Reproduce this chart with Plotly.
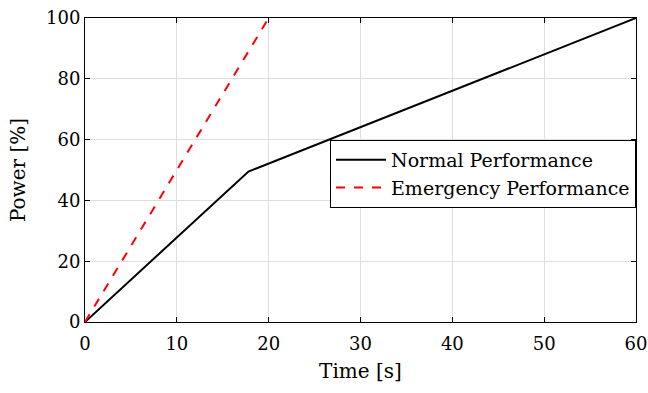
import plotly.graph_objects as go

normal_t = [0, 17.8, 60]
normal_p = [0, 49.5, 100]
emerg_t = [0, 20]
emerg_p = [0, 100]
x_ticks = [0, 10, 20, 30, 40, 50, 60]
y_ticks = [0, 20, 40, 60, 80, 100]

FONT = "DejaVu Serif"

fig = go.Figure()
fig.add_trace(go.Scatter(x=normal_t, y=normal_p, mode="lines", name="Normal Performance",
                         line=dict(color="black", width=2)))
fig.add_trace(go.Scatter(x=emerg_t, y=emerg_p, mode="lines", name="Emergency Performance",
                         line=dict(color="#ff0000", width=2, dash="dash")))

axis_common = dict(showline=True, linecolor="black", linewidth=1, mirror="ticks",
                   ticks="inside", ticklen=5, tickcolor="black", automargin=False,
                   showgrid=True, gridcolor="#dedede", gridwidth=1, zeroline=False,
                   tickfont=dict(family=FONT, size=18, color="black"))

fig.update_layout(
    width=648, height=393,
    margin=dict(l=85, r=12, t=18, b=71, autoexpand=False),
    paper_bgcolor="white", plot_bgcolor="white",
    font=dict(family=FONT, color="black"),
    xaxis=dict(range=[0, 60], tickvals=x_ticks, ticklabelstandoff=5,
               title=dict(text="Time [s]", font=dict(family=FONT, size=20), standoff=11),
               **axis_common),
    yaxis=dict(range=[0, 100], tickvals=y_ticks,
               title=dict(text="Power [%]", font=dict(family=FONT, size=20), standoff=15),
               **axis_common),
    legend=dict(x=1, xanchor="right", y=0.599, yanchor="top",
                bordercolor="black", borderwidth=1, bgcolor="white",
                font=dict(family=FONT, size=19, color="black"),
                tracegroupgap=0, itemwidth=50),
    showlegend=True,
)

fig.write_html("out.html")
